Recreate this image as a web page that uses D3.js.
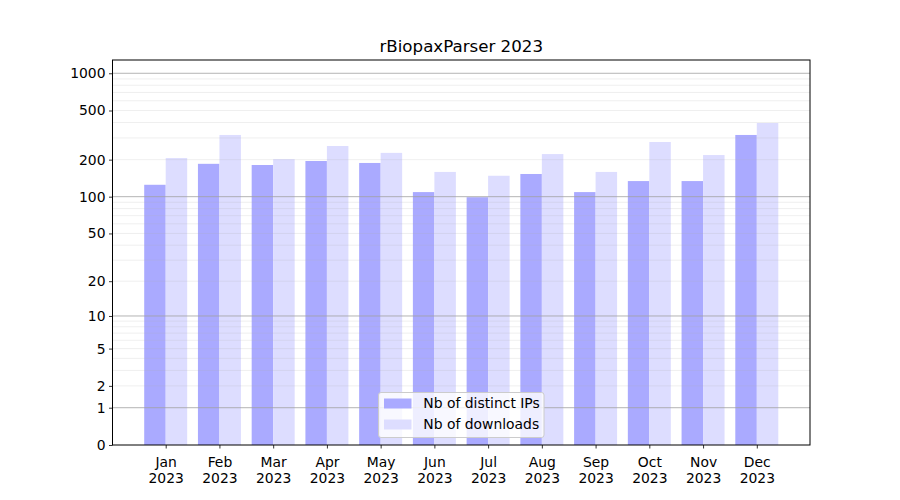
<!DOCTYPE html>
<html><head><meta charset="utf-8">
<script src="https://cdn.jsdelivr.net/npm/d3@7"></script>
<style>body{margin:0;background:#fff}svg{display:block}text{font-family:"DejaVu Sans",sans-serif;fill:#000}</style>
</head><body><div id="chart"></div>
<script>
const months = ["Jan","Feb","Mar","Apr","May","Jun","Jul","Aug","Sep","Oct","Nov","Dec"];
const year = "2023";
const distinctIPs = [125,185,181,195,188,109,99,153,109,134,134,317];
const downloads = [206,317,202,258,227,159,148,222,159,278,218,396];
const yTicks = [0,1,2,5,10,20,50,100,200,500,1000];
const seriesNames = ["Nb of distinct IPs","Nb of downloads"];
const title = "rBiopaxParser 2023";

const W=900,H=500, L=112.5,R=810,T=60,B=445;
const FS=13.9;
const svg=d3.select("#chart").append("svg").attr("width",W).attr("height",H);
const x=d3.scaleLinear().domain([-0.99,11.99]).range([L,R]);
const y=d3.scaleSymlog().constant(1).domain([0,1280]).range([B,T]);
const bw=0.4;
const colors=["#aaaaff","#ddddff"];

// bars
svg.append("g").selectAll("rect").data(distinctIPs).join("rect")
  .attr("x",(d,i)=>x(i-bw)).attr("width",(d,i)=>x(i)-x(i-bw))
  .attr("y",d=>y(d)).attr("height",d=>B-y(d)).attr("fill",colors[0]);
svg.append("g").selectAll("rect").data(downloads).join("rect")
  .attr("x",(d,i)=>x(i)).attr("width",(d,i)=>x(i+bw)-x(i))
  .attr("y",d=>y(d)).attr("height",d=>B-y(d)).attr("fill",colors[1]);

// grid
const minor=[];
[1,10,100].forEach(b=>{for(let k=2;k<=9;k++) minor.push(b*k);});
const major=[1,10,100,1000];
svg.append("g").selectAll("line").data(minor).join("line")
  .attr("x1",L).attr("x2",R).attr("y1",d=>y(d)).attr("y2",d=>y(d))
  .attr("stroke","#b0b0b0").attr("stroke-opacity",0.25).attr("stroke-width",0.8);
svg.append("g").selectAll("line").data(major).join("line")
  .attr("x1",L).attr("x2",R).attr("y1",d=>y(d)).attr("y2",d=>y(d))
  .attr("stroke","#a0a0a0").attr("stroke-opacity",0.8).attr("stroke-width",1);

// axes
const yAxis=d3.axisLeft(y).tickValues(yTicks).tickFormat(d3.format("d")).tickSize(3.5).tickPadding(3.5);
const gy=svg.append("g").attr("transform",`translate(${L},0)`).call(yAxis);
gy.select(".domain").remove();
gy.selectAll("line").attr("stroke","#000").attr("stroke-width",0.8);
gy.selectAll("text").style("font-size",FS+"px");

const xAxis=d3.axisBottom(x).tickValues(d3.range(months.length)).tickFormat(()=>"").tickSize(3.5);
const gx=svg.append("g").attr("transform",`translate(0,${B})`).call(xAxis);
gx.select(".domain").remove();
gx.selectAll("line").attr("stroke","#000").attr("stroke-width",0.8);
gx.selectAll(".tick text").each(function(d){
  const t=d3.select(this).attr("y",null).attr("dy",null).style("font-size",FS+"px");
  t.append("tspan").attr("x",0).attr("y",21.7).text(months[d]);
  t.append("tspan").attr("x",0).attr("y",37.6).text(year);
});

// frame
svg.append("rect").attr("x",L).attr("y",T).attr("width",R-L).attr("height",B-T)
  .attr("fill","none").attr("stroke","#000").attr("stroke-width",1);

// title
svg.append("text").attr("x",(L+R)/2).attr("y",52).attr("text-anchor","middle")
  .style("font-size","16.67px").text(title);

// legend
const lg=svg.append("g").attr("transform","translate(378.5,392.5)");
lg.append("rect").attr("width",165.5).attr("height",45).attr("rx",2.5)
  .attr("fill","#fff").attr("fill-opacity",0.8).attr("stroke","#cccccc").attr("stroke-width",1);
seriesNames.forEach((n,i)=>{
  lg.append("rect").attr("x",5.5).attr("y",6+i*21).attr("width",27.5).attr("height",10).attr("fill",colors[i]);
  lg.append("text").attr("x",44.8).attr("y",15.8+i*21).style("font-size",FS+"px").text(n);
});
</script></body></html>
